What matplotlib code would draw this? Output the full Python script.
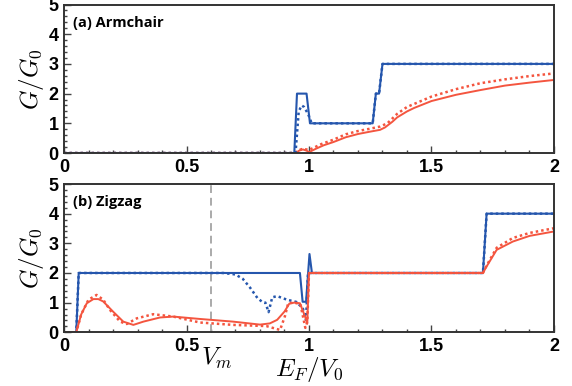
import matplotlib
matplotlib.use("Agg")
import matplotlib.pyplot as plt
from matplotlib.ticker import MultipleLocator

plt.rcParams['mathtext.fontset'] = 'cm'
plt.rcParams['font.family'] = ['Liberation Sans', 'DejaVu Sans']

BLUE = '#2556ad'
RED = '#f4553f'

# ---------------- (a) Armchair ----------------
arm_blue_solid_x = [0, 0.94, 0.951, 0.99, 1.004, 1.26, 1.273, 1.286, 1.30, 2.0]
arm_blue_solid_y = [0, 0, 2, 2, 1, 1, 2, 2, 3, 3]
arm_blue_dot_x = [0, 0.945, 0.958, 0.97, 0.98, 0.997, 1.011, 1.26, 1.273, 1.286, 1.30, 2.0]
arm_blue_dot_y = [0, 0, 1.4, 1.6, 1.55, 1.3, 1.0, 1.0, 2, 2, 3, 3]
arm_red_solid_x = [0, 0.945, 0.96, 0.975, 0.99, 1.0, 1.03, 1.06, 1.1, 1.15, 1.2, 1.25, 1.29, 1.31,
                   1.34, 1.36, 1.4, 1.43, 1.5, 1.6, 1.7, 1.8, 1.9, 2.0]
arm_red_solid_y = [0, 0, 0.08, 0.12, 0.08, 0.03, 0.15, 0.26, 0.37, 0.53, 0.64, 0.72, 0.78, 0.86,
                   1.05, 1.2, 1.4, 1.52, 1.75, 1.96, 2.12, 2.27, 2.37, 2.46]
arm_red_dot_x = [0, 0.94, 0.955, 0.97, 0.99, 1.0, 1.05, 1.1, 1.15, 1.2, 1.25, 1.29, 1.32,
                 1.36, 1.4, 1.5, 1.6, 1.7, 1.8, 1.9, 2.0]
arm_red_dot_y = [0, 0, 0.08, 0.13, 0.12, 0.1, 0.3, 0.45, 0.63, 0.74, 0.82, 0.89, 1.0,
                 1.32, 1.55, 1.9, 2.15, 2.35, 2.48, 2.59, 2.68]

# ---------------- (b) Zigzag ----------------
zz_blue_solid_x = [0, 0.05, 0.06, 0.963, 0.974, 0.988, 1.002, 1.012, 1.71, 1.725, 2.0]
zz_blue_solid_y = [0, 0, 2, 2, 1.03, 1.03, 2.64, 2.0, 2.0, 4, 4]
zz_blue_dot_x = [0, 0.05, 0.06, 0.65, 0.7, 0.73, 0.76, 0.79, 0.81, 0.822, 0.835, 0.85, 0.87,
                 0.91, 0.95, 0.975, 0.988, 0.996, 1.71, 1.725, 2.0]
zz_blue_dot_y = [0, 0, 2, 2, 1.95, 1.8, 1.5, 1.15, 1.02, 1.0, 0.68, 1.18, 1.22,
                 1.1, 1.02, 0.8, 0.42, 2.0, 2.0, 4, 4]
zz_red_solid_x = [0, 0.05, 0.07, 0.093, 0.12, 0.14, 0.16, 0.2, 0.242, 0.283, 0.324, 0.392,
                  0.446, 0.555, 0.69, 0.8, 0.84, 0.87, 0.9, 0.92, 0.94, 0.963, 0.984, 0.993,
                  1.0, 1.71, 1.725, 1.766, 1.832, 1.9, 2.0]
zz_red_solid_y = [0, 0, 0.6, 0.98, 1.12, 1.12, 1.04, 0.7, 0.36, 0.25, 0.36, 0.5,
                  0.53, 0.45, 0.36, 0.26, 0.3, 0.42, 0.7, 0.97, 1.0, 0.98, 0.53, 0.3,
                  2.0, 2.0, 2.22, 2.78, 3.06, 3.25, 3.4]
zz_red_dot_x = [0, 0.05, 0.07, 0.1, 0.133, 0.16, 0.188, 0.229, 0.256, 0.297, 0.364, 0.446,
                0.555, 0.69, 0.826, 0.882, 0.902, 0.915, 0.94, 0.965, 0.985, 0.993,
                1.0, 1.71, 1.725, 1.766, 1.832, 1.9, 2.0]
zz_red_dot_y = [0, 0, 0.6, 1.1, 1.26, 1.1, 0.75, 0.36, 0.28, 0.47, 0.61, 0.53,
                0.33, 0.25, 0.21, 0.08, 0.55, 0.98, 1.0, 0.95, 0.15, 0.35,
                2.0, 2.0, 2.25, 2.85, 3.18, 3.35, 3.51]

V_m = 0.6
x_ticks = [0, 0.5, 1, 1.5, 2]
x_ticklabels = ['0', '0.5', '1', '1.5', '2']
y_ticks = [0, 1, 2, 3, 4, 5]

fig = plt.figure(figsize=(5.72, 3.86), dpi=100)
ax1 = fig.add_axes([0.1119, 0.6036, 0.8566, 0.3847])
ax2 = fig.add_axes([0.1119, 0.1391, 0.8566, 0.3842])

dot = (0, (1, 1.2))


def style(ax, label):
    ax.set_xlim(0, 2)
    ax.set_ylim(0, 5)
    ax.set_xticks(x_ticks)
    ax.set_xticklabels(x_ticklabels)
    ax.set_yticks(y_ticks)
    ax.xaxis.set_minor_locator(MultipleLocator(0.1))
    ax.yaxis.set_minor_locator(MultipleLocator(0.2))
    ax.tick_params(which='both', direction='in', color='#444444', width=1.0)
    ax.tick_params(which='major', length=5, labelsize=13, pad=4)
    ax.tick_params(which='minor', length=2.5)
    for lab in ax.get_xticklabels() + ax.get_yticklabels():
        lab.set_fontweight('bold')
    for s in ax.spines.values():
        s.set_linewidth(1.4)
        s.set_color('#333333')
    ax.set_ylabel(r'$G/G_0$', fontsize=18, labelpad=2)
    ax.text(0.037, 4.38, label, fontsize=10.5, fontweight='bold', family=['Open Sans', 'DejaVu Sans'],
            va='center', ha='left')


ax1.plot(arm_red_solid_x, arm_red_solid_y, color=RED, lw=1.4)
ax1.plot(arm_red_dot_x, arm_red_dot_y, color=RED, lw=1.8, linestyle=dot)
ax1.plot(arm_blue_solid_x, arm_blue_solid_y, color=BLUE, lw=1.5)
ax1.plot(arm_blue_dot_x, arm_blue_dot_y, color=BLUE, lw=1.8, linestyle=dot)
style(ax1, '(a) Armchair')

ax2.axvline(V_m, color='#aaaaaa', lw=1.4, linestyle=(0, (4, 2.5)))
ax2.plot(zz_blue_solid_x, zz_blue_solid_y, color=BLUE, lw=1.5)
ax2.plot(zz_blue_dot_x, zz_blue_dot_y, color=BLUE, lw=1.8, linestyle=dot)
ax2.plot(zz_red_solid_x, zz_red_solid_y, color=RED, lw=1.4)
ax2.plot(zz_red_dot_x, zz_red_dot_y, color=RED, lw=1.8, linestyle=dot)
style(ax2, '(b) Zigzag')
ax2.text(0.625, -0.45, r'$V_m$', fontsize=18, ha='center', va='top')
ax2.set_xlabel(r'$E_F/V_0$', fontsize=18, labelpad=0)

fig.savefig('out.png', dpi=100)
